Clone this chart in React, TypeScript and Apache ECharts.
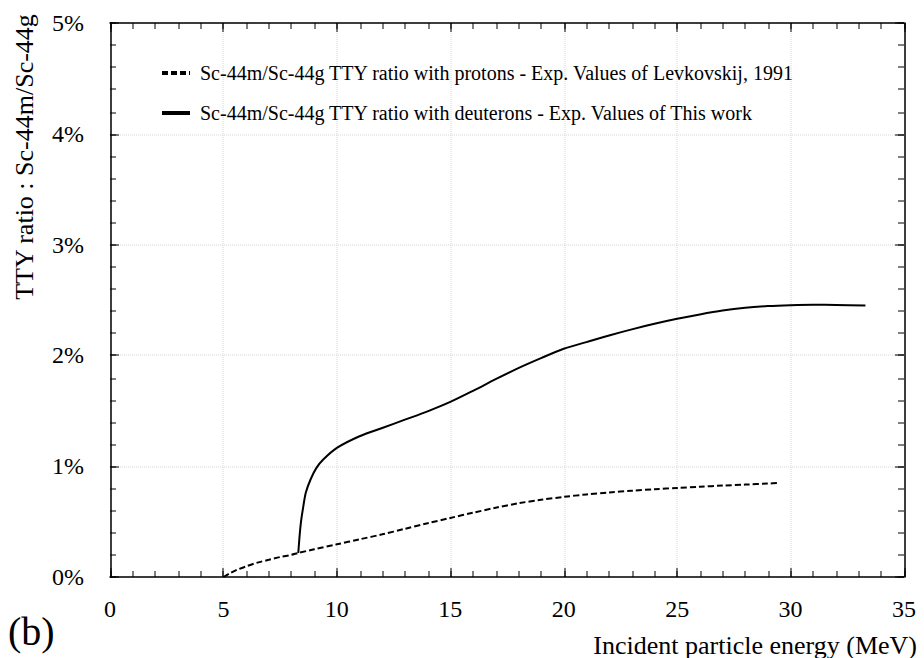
import React, { useEffect, useRef } from "react";
import * as echarts from "echarts";

const FONT = "Liberation Serif";
const S = 0.5;

const protonEnergy = [5, 5.3, 5.6, 6, 6.5, 7, 7.5, 8, 8.3, 9, 10, 11, 12, 13, 14, 15, 16, 17, 18, 19, 20, 21, 22, 23, 24, 25, 26, 27, 28, 29, 29.5];
const protonRatio = [0, 0.035, 0.065, 0.096, 0.13, 0.155, 0.18, 0.2, 0.217, 0.25, 0.295, 0.34, 0.385, 0.435, 0.485, 0.533, 0.58, 0.625, 0.665, 0.697, 0.723, 0.745, 0.763, 0.778, 0.792, 0.804, 0.815, 0.825, 0.834, 0.843, 0.849];

const deuteronEnergy = [8.3, 8.33, 8.37, 8.42, 8.5, 8.63, 8.84, 9.1, 9.4, 10, 11, 12, 13, 14, 15, 16, 17, 18, 19, 20, 21, 22, 23, 24, 25, 26, 27, 28, 29, 30, 31, 32, 33.3];
const deuteronRatio = [0.217, 0.3, 0.4, 0.5, 0.61, 0.76, 0.88, 0.985, 1.06, 1.165, 1.27, 1.345, 1.42, 1.495, 1.58, 1.68, 1.785, 1.885, 1.975, 2.06, 2.12, 2.18, 2.235, 2.285, 2.33, 2.37, 2.405, 2.43, 2.445, 2.453, 2.457, 2.455, 2.45];

const seriesNames = [
  "Sc-44m/Sc-44g TTY ratio with protons - Exp. Values of Levkovskij, 1991",
  "Sc-44m/Sc-44g TTY ratio with deuterons - Exp. Values of This work",
];

const xAxisName = "Incident particle energy (MeV)";
const yAxisName = "TTY ratio : Sc-44m/Sc-44g";
const panelLabel = "(b)";

const xRange = { min: 0, max: 35, major: 5, minor: 1 };
const yRange = { min: 0, max: 5, major: 1, minor: 0.2 };

function zip(xs: number[], ys: number[]) {
  return xs.map((x, i) => [x, ys[i]]);
}

function makeAxis(range: any, position: string, kind: string, labelled: boolean, isY: boolean) {
  const isMajor = kind === "major";
  const ax: any = {
    type: "value",
    min: range.min,
    max: range.max,
    interval: isMajor ? range.major : range.minor,
    position,
    offset: 0,
    axisLine: isMajor
      ? { show: true, onZero: false, lineStyle: { color: "#000", width: 1.5 * S } }
      : { show: false, onZero: false },
    axisTick: { show: true, inside: true, length: (isMajor ? 9 : 6) * S, lineStyle: { color: "#000", width: 1 * S } },
    minorTick: { show: false },
    splitLine:
      isMajor && labelled
        ? { show: true, lineStyle: { color: "#d6d6d6", type: "dotted", width: 1 * S } }
        : { show: false },
    axisLabel:
      isMajor && labelled
        ? { show: true, margin: (isY ? 26 : 20) * S, fontFamily: FONT, fontSize: 24 * S, color: "#000" }
        : { show: false },
  };
  if (isMajor && labelled && isY) ax.axisLabel.formatter = "{value}%";
  return ax;
}

function buildOption() {
  return {
    animation: false,
    backgroundColor: "#fff",
    textStyle: { fontFamily: FONT },
    grid: { left: 110 * S, right: 20 * S, top: 23 * S, bottom: 81 * S, containLabel: false },
    xAxis: [
      makeAxis(xRange, "bottom", "major", true, false),
      makeAxis(xRange, "bottom", "minor", false, false),
      makeAxis(xRange, "top", "major", false, false),
      makeAxis(xRange, "top", "minor", false, false),
    ],
    yAxis: [
      makeAxis(yRange, "left", "major", true, true),
      makeAxis(yRange, "left", "minor", false, true),
      makeAxis(yRange, "right", "major", false, true),
      makeAxis(yRange, "right", "minor", false, true),
    ],
    series: [
      {
        name: seriesNames[0],
        type: "line",
        xAxisIndex: 0,
        yAxisIndex: 0,
        data: zip(protonEnergy, protonRatio),
        showSymbol: false,
        symbol: "none",
        smooth: 0.3,
        lineStyle: { color: "#000", width: 2 * S, type: [6 * S, 3 * S] },
      },
      {
        name: seriesNames[1],
        type: "line",
        xAxisIndex: 0,
        yAxisIndex: 0,
        data: zip(deuteronEnergy, deuteronRatio),
        showSymbol: false,
        symbol: "none",
        smooth: 0.3,
        lineStyle: { color: "#000", width: 2 * S, type: "solid" },
      },
    ],
    legend: {
      orient: "vertical",
      left: 150 * S,
      top: 53 * S,
      itemWidth: 28 * S,
      itemHeight: 14 * S,
      itemGap: 20 * S,
      itemStyle: { opacity: 0 },
      textStyle: { fontFamily: FONT, fontSize: 20 * S, color: "#000" },
      data: seriesNames,
    },
    graphic: [
      {
        type: "text",
        x: 24 * S,
        y: 157 * S,
        rotation: Math.PI / 2,
        style: { text: yAxisName, fontSize: 26 * S, fontFamily: FONT, fill: "#000", align: "center", verticalAlign: "middle" },
      },
      {
        type: "text",
        x: 917 * S,
        y: 645 * S,
        style: { text: xAxisName, fontSize: 26 * S, fontFamily: FONT, fill: "#000", align: "right", verticalAlign: "middle" },
      },
      {
        type: "text",
        x: 8 * S,
        y: 631 * S,
        style: { text: panelLabel, fontSize: 40 * S, fontFamily: FONT, fill: "#000", align: "left", verticalAlign: "middle" },
      },
    ],
  };
}

function Chart() {
  const ref = useRef<HTMLDivElement>(null);
  useEffect(() => {
    if (!ref.current) return;
    const chart = echarts.init(ref.current, undefined, { renderer: "svg" });
    chart.setOption(buildOption() as any);
    return () => chart.dispose();
  }, []);
  return <div ref={ref} style={{ width: 924 * S, height: 658 * S, display: "inline-block" }} />;
}

export default function App() {
  return (
    <div
      style={{
        position: "fixed",
        left: 0,
        top: 0,
        width: 924 * S,
        height: 658 * S,
        transform: `scale(${1 / S})`,
        transformOrigin: "0 0",
        background: "#fff",
      }}
    >
      <Chart />
    </div>
  );
}
